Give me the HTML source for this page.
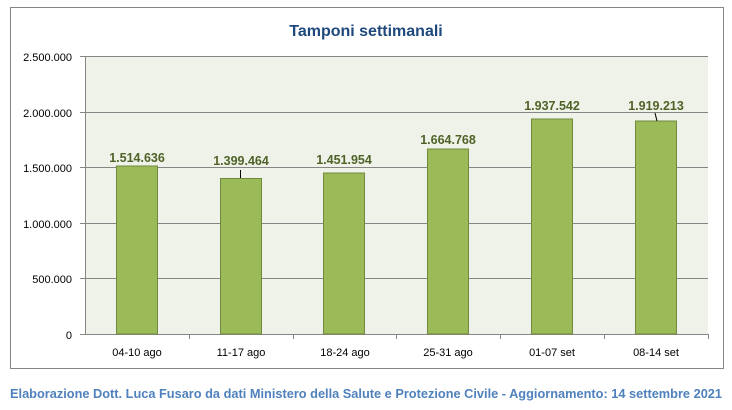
<!DOCTYPE html>
<html><head><meta charset="utf-8"><style>
body{margin:0;background:#fff;width:732px;height:405px;overflow:hidden;font-family:"Liberation Sans",sans-serif}
</style></head><body>
<svg width="732" height="405" viewBox="0 0 732 405" xmlns="http://www.w3.org/2000/svg" font-family="Liberation Sans, sans-serif">
<rect x="10.5" y="7.5" width="713" height="361" fill="#fff" stroke="#868686"/>
<text x="366" y="36" text-anchor="middle" font-size="16" font-weight="bold" fill="#1f497d">Tamponi settimanali</text>
<rect x="85" y="56" width="623" height="278" fill="#eff2e8"/>
<g stroke="#868686" stroke-width="1">
<line x1="80" y1="56.5" x2="708" y2="56.5"/>
<line x1="80" y1="112.5" x2="708" y2="112.5"/>
<line x1="80" y1="167.5" x2="708" y2="167.5"/>
<line x1="80" y1="223.5" x2="708" y2="223.5"/>
<line x1="80" y1="278.5" x2="708" y2="278.5"/>
<line x1="80" y1="334.5" x2="708" y2="334.5"/>
<line x1="85.5" y1="56" x2="85.5" y2="334"/>
<line x1="189.5" y1="334" x2="189.5" y2="339"/>
<line x1="293.5" y1="334" x2="293.5" y2="339"/>
<line x1="396.5" y1="334" x2="396.5" y2="339"/>
<line x1="500.5" y1="334" x2="500.5" y2="339"/>
<line x1="604.5" y1="334" x2="604.5" y2="339"/>
<line x1="708.5" y1="334" x2="708.5" y2="339"/>
</g>
<g font-size="11" fill="#000" text-anchor="end">
<text x="72" y="61">2.500.000</text>
<text x="72" y="117">2.000.000</text>
<text x="72" y="172">1.500.000</text>
<text x="72" y="228">1.000.000</text>
<text x="72" y="283">500.000</text>
<text x="72" y="339">0</text>
</g>
<g fill="#9bbb59" stroke="#71893f" stroke-width="1">
<rect x="116.5" y="166" width="41" height="168"/>
<rect x="220.5" y="178.5" width="41" height="155.5"/>
<rect x="323.5" y="173" width="41" height="161"/>
<rect x="427.5" y="149" width="41" height="185"/>
<rect x="531.5" y="119" width="41" height="215"/>
<rect x="635.5" y="121" width="41" height="213"/>
</g>
<line x1="240.5" y1="170" x2="240.5" y2="178" stroke="#000"/>
<line x1="655" y1="113" x2="657" y2="121" stroke="#000"/>
<g font-size="12.5" font-weight="bold" fill="#4f6228" text-anchor="middle">
<text x="137" y="162">1.514.636</text>
<text x="241" y="165">1.399.464</text>
<text x="344" y="164">1.451.954</text>
<text x="448" y="144">1.664.768</text>
<text x="552" y="110">1.937.542</text>
<text x="656" y="110">1.919.213</text>
</g>
<g font-size="11" fill="#000" text-anchor="middle">
<text x="137" y="356">04-10 ago</text>
<text x="241" y="356">11-17 ago</text>
<text x="345" y="356">18-24 ago</text>
<text x="448" y="356">25-31 ago</text>
<text x="552" y="356">01-07 set</text>
<text x="656" y="356">08-14 set</text>
</g>
<text x="366" y="398" text-anchor="middle" font-size="12.5" font-weight="bold" fill="#4f81bd" textLength="712" lengthAdjust="spacingAndGlyphs">Elaborazione Dott. Luca Fusaro da dati Ministero della Salute e Protezione Civile - Aggiornamento: 14 settembre 2021</text>
</svg>
</body></html>
